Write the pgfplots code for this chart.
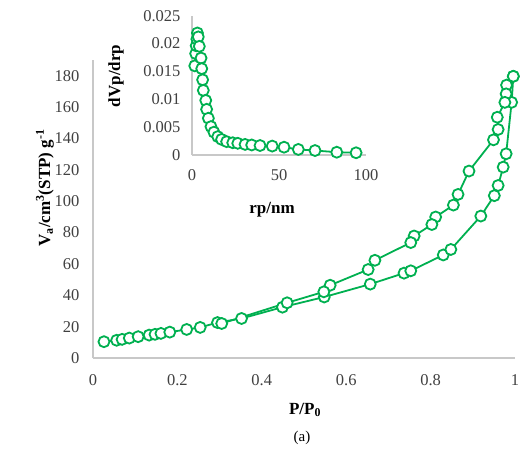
\documentclass[border=0pt]{standalone}
\usepackage{pgfplots}
\pgfplotsset{compat=1.18}
\usepackage{fontspec}
\setmainfont{Liberation Serif}
\definecolor{exgreen}{RGB}{0,176,80}
\definecolor{axgray}{RGB}{200,200,200}
\definecolor{txtgray}{RGB}{64,64,64}
\begin{document}
\begin{tikzpicture}[x=1pt,y=1pt]
\path[use as bounding box] (0,0) rectangle (521,452);
\pgfplotsset{
  myaxis/.style={
    scale only axis,
    axis lines=left,
    axis line style={-,axgray,line width=1.2pt},
    major tick length=0pt,
    tick label style={font=\fontsize{16.5}{19}\selectfont, text=txtgray},
    /pgf/number format/assume math mode=true,
    scaled ticks=false,
    clip=false,
  },
  myline/.style={exgreen, line width=1.8pt, mark=*, mark size=5.5pt,
    mark options={line width=1.8pt, draw=exgreen, fill=white}},
}
\begin{axis}[myaxis,
  at={(93pt,94pt)}, anchor=south west,
  width=422pt, height=298pt,
  xmin=0, xmax=1, ymin=0, ymax=190,
  xtick={0,0.2,0.4,0.6,0.8,1},
  xticklabels={0,0.2,0.4,0.6,0.8,1},
  ytick={0,20,40,60,80,100,120,140,160,180},
  xticklabel style={yshift=-13pt},
  yticklabel style={xshift=-10pt},
]
\addplot[myline] coordinates {
(0.026,10.4)(0.056,11.3)(0.069,11.9)(0.086,12.7)(0.107,13.6)(0.133,14.6)
(0.147,15.1)(0.161,15.7)(0.182,16.5)(0.222,18.2)(0.254,19.5)(0.295,22.6)
(0.352,25.2)(0.449,32.4)(0.548,38.9)(0.657,47.1)(0.737,54.1)(0.753,55.6)
(0.830,65.7)(0.848,69.2)(0.919,90.5)(0.951,103.5)(0.960,110.0)(0.972,121.7)
(0.979,130.2)(0.992,163.0)(0.996,179.6)
};
\addplot[myline] coordinates {
(0.996,179.6)(0.980,174.0)(0.979,168.4)(0.976,163.0)(0.958,153.5)(0.960,145.7)
(0.949,139.1)(0.891,119.2)(0.865,104.3)(0.854,97.5)(0.812,89.9)(0.803,85.1)
(0.761,77.8)(0.753,73.6)(0.668,62.3)(0.652,56.4)(0.562,46.4)(0.547,42.2)
(0.460,35.2)(0.305,22.0)
};
\end{axis}
\begin{axis}[myaxis,
  at={(192pt,297pt)}, anchor=south west,
  width=174pt, height=139.3pt,
  xmin=0, xmax=100, ymin=0, ymax=0.025,
  xtick={0,50,100},
  ytick={0,0.005,0.01,0.015,0.02,0.025},
  yticklabels={0,0.005,0.01,0.015,0.02,0.025},
  xticklabel style={yshift=-11pt},
  yticklabel style={xshift=-8pt},
]
\addplot[myline] coordinates {
(1.6,0.0160)(2.1,0.0182)(2.4,0.0196)(2.8,0.0208)(3.1,0.0219)(3.6,0.0212)
(4.2,0.0195)(5.2,0.0174)(5.6,0.0155)(6.1,0.0135)(6.5,0.0116)(7.9,0.0098)
(8.4,0.0082)(9.4,0.0066)(10.9,0.0051)(12.6,0.0041)(14.8,0.0033)(17.0,0.0028)
(19.9,0.0024)(23.4,0.0022)(26.3,0.0021)(30.5,0.0019)(34.3,0.0018)(39.1,0.0017)
(46.1,0.0016)(52.9,0.0014)(61.1,0.0010)(70.7,0.0008)(83.2,0.0005)(94.3,0.0004)
};
\end{axis}
\node[rotate=90, font=\fontsize{17}{20}\selectfont\bfseries] at (45,264)
  {V\textsubscript{a}/cm\textsuperscript{3}(STP) g\textsuperscript{-1}};
\node[font=\fontsize{17}{20}\selectfont\bfseries] at (305,42) {P/P\textsubscript{0}};
\node[font=\fontsize{15}{18}\selectfont] at (302,14) {(a)};
\node[rotate=90, font=\fontsize{17}{20}\selectfont\bfseries] at (116,376) {dVp/drp};
\node[font=\fontsize{17}{20}\selectfont\bfseries] at (272,242) {rp/nm};
\end{tikzpicture}
\end{document}
